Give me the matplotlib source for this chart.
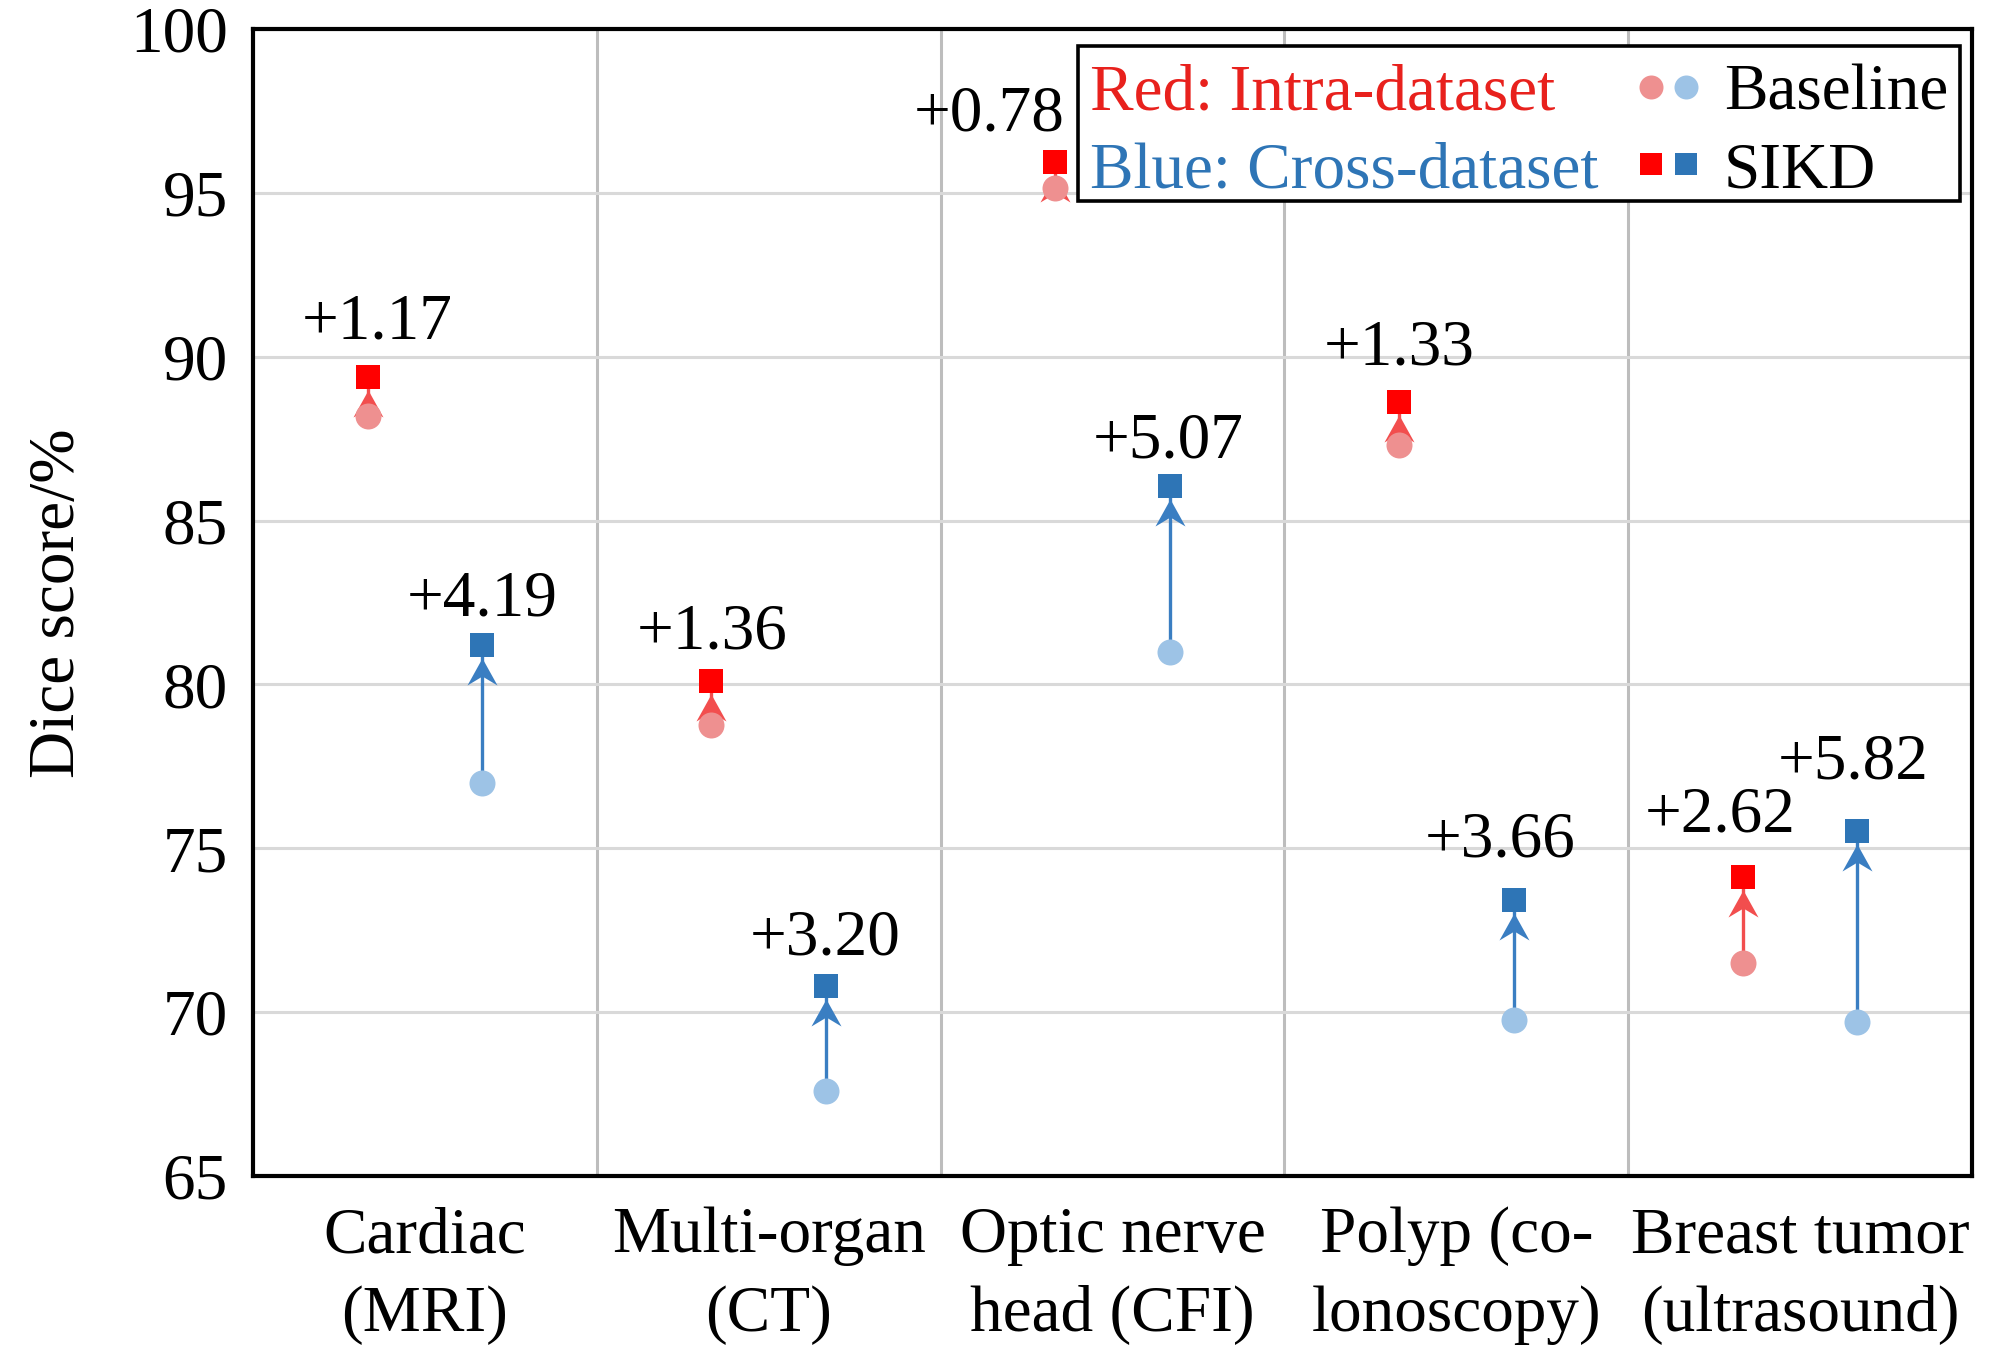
import numpy as np
import matplotlib
matplotlib.use("Agg")
import matplotlib.pyplot as plt
from matplotlib.path import Path
from matplotlib.patches import Rectangle
from matplotlib.lines import Line2D

plt.rcParams['font.family'] = ['Liberation Serif', 'DejaVu Serif']

W, H = 2008, 1350

categories = ["Cardiac\n(MRI)", "Multi-organ\n(CT)", "Optic nerve\nhead (CFI)",
              "Polyp (co-\nlonoscopy)", "Breast tumor\n(ultrasound)"]
intra_base = [88.20, 78.75, 95.15, 87.30, 71.50]
intra_gain = [1.17, 1.36, 0.78, 1.33, 2.62]
cross_base = [77.00, 67.60, 81.00, 69.75, 69.70]
cross_gain = [4.19, 3.20, 5.07, 3.66, 5.82]
yticks = [65, 70, 75, 80, 85, 90, 95, 100]

# label offsets in pixels (dx, dy above the square centre), hand tuned
intra_off = [(10, 39, 'center'), (1, 32, 'center'), (9, 32, 'right'), (0, 37, 'center'), (-23, 46, 'center')]
cross_off = [(0, 30, 'center'), (-1, 31, 'center'), (-2, 28, 'center'), (-13, 44, 'center'), (-4, 53, 'center')]

RED_SIKD = '#FF0000'
RED_BASE = '#EE9090'
RED_ARROW = '#F24E4E'
BLUE_SIKD = '#2E75B6'
BLUE_BASE = '#9DC3E6'
BLUE_ARROW = '#3A7EC2'

FS = 47
px = 0.72  # pixel -> points at dpi 100

fig = plt.figure(figsize=(W / 100, H / 100), dpi=100)
ax = fig.add_axes([253 / W, 1 - 1176 / H, 1719 / W, 1147 / H])

# arrow head marker: tip at the bottom edge of the square, notched like a stealth arrow
head = Path([(0, -13), (15, -40), (0, -31), (-15, -40), (0, -13)],
            [Path.MOVETO, Path.LINETO, Path.LINETO, Path.LINETO, Path.CLOSEPOLY])
head_size = 2 * 40 * px

n = len(categories)
x_intra = np.arange(n) + 1 / 3
x_cross = np.arange(n) + 2 / 3
intra_sikd = np.array(intra_base) + np.array(intra_gain)
cross_sikd = np.array(cross_base) + np.array(cross_gain)

for xs, base, sikd, gains, offs, cb, cs, ca in [
        (x_intra, intra_base, intra_sikd, intra_gain, intra_off, RED_BASE, RED_SIKD, RED_ARROW),
        (x_cross, cross_base, cross_sikd, cross_gain, cross_off, BLUE_BASE, BLUE_SIKD, BLUE_ARROW)]:
    for x, b, s in zip(xs, base, sikd):
        ax.plot([x, x], [b, s], color=ca, lw=2.4, zorder=3, solid_capstyle='butt')
    ax.plot(xs, sikd, linestyle='none', marker=head, markersize=head_size,
            color=ca, markeredgewidth=0, zorder=4)
    ax.plot(xs, base, linestyle='none', marker='o', markersize=26 * px,
            color=cb, markeredgewidth=0, zorder=5)
    ax.plot(xs, sikd, linestyle='none', marker='s', markersize=24 * px,
            color=cs, markeredgewidth=0, zorder=6)
    for x, s, g, (dx, dy, ha) in zip(xs, sikd, gains, offs):
        ax.annotate(f"+{g:.2f}", (x, s), xytext=(dx * px, dy * px),
                    textcoords='offset points', ha=ha, va='baseline',
                    fontsize=FS, zorder=7)

ax.set_xlim(0, n)
ax.set_ylim(65, 100)
ax.set_yticks(yticks)
ax.set_yticklabels([str(t) for t in yticks], fontsize=FS)
ax.set_xticks(np.arange(n) + 0.5)
ax.set_xticklabels(categories, fontsize=FS, linespacing=1.42)
ax.set_xticks(np.arange(1, n), minor=True)
ax.tick_params(which='both', length=0)
ax.tick_params(axis='y', pad=18)
ax.tick_params(axis='x', pad=22)
ax.grid(axis='y', which='major', color='#D9D9D9', lw=2.2, zorder=0)
ax.grid(axis='x', which='major', visible=False)
ax.grid(axis='x', which='minor', color='#BDBDBD', lw=2.2, zorder=0)
ax.set_axisbelow(True)
for sp in ax.spines.values():
    sp.set_linewidth(3)
    sp.set_color('black')
    sp.set_zorder(8)

fig.text(58 / W, 1 - 603 / H, "Dice score/%", rotation=90, ha='center', va='center', fontsize=FS)

# legend drawn by hand
def fx(p):
    return p / W

def fy(p):
    return 1 - p / H

fig.add_artist(Rectangle((fx(1078), fy(201)), (1960 - 1078) / W, (201 - 46) / H,
                         transform=fig.transFigure, facecolor='white',
                         edgecolor='black', lw=2.6, zorder=10))
fig.text(fx(1090), fy(109), "Red: Intra-dataset", color='#E8211D', fontsize=FS,
         va='baseline', ha='left', zorder=11)
fig.text(fx(1090), fy(187), "Blue: Cross-dataset", color=BLUE_SIKD, fontsize=FS,
         va='baseline', ha='left', zorder=11)
fig.text(fx(1724), fy(109), "Baseline", color='black', fontsize=FS,
         va='baseline', ha='left', zorder=11)
fig.text(fx(1724), fy(187), "SIKD", color='black', fontsize=FS,
         va='baseline', ha='left', zorder=11)
for xp, c in [(1651, RED_BASE), (1686, BLUE_BASE)]:
    fig.add_artist(Line2D([fx(xp)], [fy(87)], marker='o', markersize=24 * px,
                          color=c, markeredgewidth=0, transform=fig.transFigure, zorder=11))
for xp, c in [(1651, RED_SIKD), (1686, BLUE_SIKD)]:
    fig.add_artist(Line2D([fx(xp)], [fy(164)], marker='s', markersize=22 * px,
                          color=c, markeredgewidth=0, transform=fig.transFigure, zorder=11))

fig.savefig("out.png", dpi=100)
